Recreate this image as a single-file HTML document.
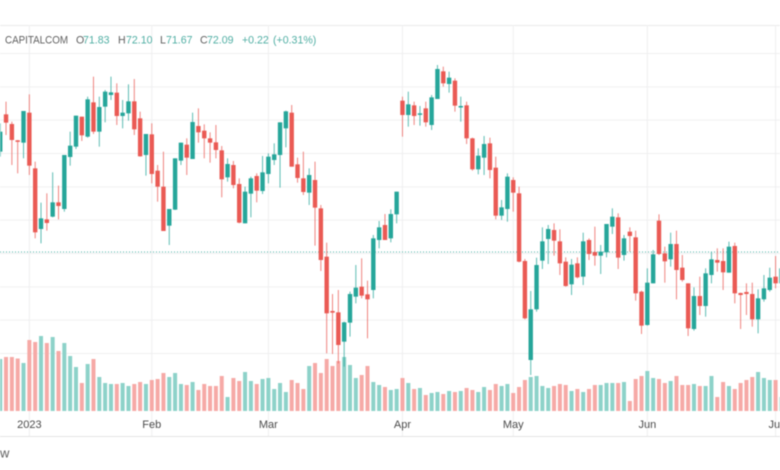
<!DOCTYPE html>
<html lang="en">
<head>
<meta charset="utf-8">
<title>CAPITALCOM candlestick chart</title>
<style>
html,body{margin:0;padding:0;background:#fff;width:780px;height:470px;overflow:hidden}
svg{display:block;filter:blur(0.6px)}
text{font-family:"Liberation Sans",sans-serif}
</style>
</head>
<body>
<svg id="chart" width="780" height="470" viewBox="0 0 780 470" xmlns="http://www.w3.org/2000/svg">
  <rect x="0" y="0" width="780" height="470" fill="#ffffff"/>
  <line x1="0" x2="780" y1="25.5" y2="25.5" stroke="#ebebeb"/>
  <g id="grid"></g>
  <g id="volumes"></g>
  <line id="price-line" x1="0" x2="780" stroke="#4fb3a8" stroke-width="1" stroke-dasharray="1 2"/>
  <g id="candles"></g>
  <line x1="0" x2="780" y1="436.5" y2="436.5" stroke="#e4e4e4"/>
  <g id="xlabels"></g>
  <g font-size="10.6">
    <text x="5" y="43.5" fill="#5f5f5f" textLength="63" lengthAdjust="spacingAndGlyphs">CAPITALCOM</text>
    <text x="76" y="43.5" fill="#5f5f5f">O</text>
    <text x="83" y="43.5" fill="#4faea3">71.83</text>
    <text x="118" y="43.5" fill="#5f5f5f">H</text>
    <text x="126" y="43.5" fill="#4faea3">72.10</text>
    <text x="160" y="43.5" fill="#5f5f5f">L</text>
    <text x="166" y="43.5" fill="#4faea3">71.67</text>
    <text x="200" y="43.5" fill="#5f5f5f">C</text>
    <text x="207" y="43.5" fill="#4faea3">72.09</text>
    <text x="242" y="43.5" fill="#4faea3">+0.22</text>
    <text x="273" y="43.5" fill="#4faea3">(+0.31%)</text>
  </g>
  <text x="0" y="457.5" font-size="13" fill="#5f5f5f">w</text>
</svg>
<script>
const opens = [78.11,80.35,79.77,78.79,78.65,80.45,77.11,73.47,74.05,74.21,
75.07,74.67,77.79,78.41,80.21,79.01,81.07,79.31,80.81,81.51,
81.65,80.25,80.41,81.13,80.11,77.91,79.15,76.97,76.01,73.67,
74.63,77.57,78.53,77.67,79.65,79.37,78.91,78.67,78.19,76.57,
77.31,76.17,73.81,75.59,76.65,75.75,76.77,77.61,77.91,79.51,
80.45,77.35,76.51,75.65,76.41,74.71,71.81,68.55,68.47,66.71,
67.85,69.41,70.01,69.55,69.81,72.81,73.71,72.91,74.35,81.17,
80.31,80.89,80.35,80.71,79.71,81.27,82.93,82.17,82.37,80.79,
80.89,78.91,77.05,77.75,78.61,77.15,74.27,74.67,76.41,75.61,
71.55,65.61,68.65,71.57,72.87,73.41,72.73,71.51,70.15,71.41,
70.61,72.81,72.09,71.87,72.07,73.61,74.17,71.91,73.31,72.97,
69.71,67.71,70.21,73.97,72.01,71.65,72.57,71.15,70.21,67.47,
69.45,68.85,70.71,71.61,71.55,70.85,72.45,69.63,69.69,69.57,
68.05,69.25,69.81,70.61,70.21];
const highs = [79.81,81.11,79.91,78.81,80.55,81.55,77.51,75.05,75.61,76.87,
76.07,77.91,79.31,80.27,80.21,81.41,82.61,81.41,81.81,82.61,
82.21,81.21,82.15,82.47,80.51,79.17,79.81,77.31,78.11,74.67,
77.71,78.65,78.91,80.45,80.71,79.75,79.27,79.71,78.45,77.71,
77.55,76.51,76.01,76.61,76.81,77.85,78.01,78.61,79.87,80.57,
80.91,77.75,78.11,77.11,77.51,74.91,72.65,69.57,69.81,67.91,
69.71,71.31,71.71,70.37,73.11,73.95,74.37,74.65,75.71,81.41,
81.71,81.11,80.85,81.11,81.51,83.31,83.21,82.91,82.51,81.41,
81.11,78.95,78.31,79.05,78.95,77.81,75.21,76.81,76.57,76.01,
71.67,69.75,71.75,73.57,73.71,73.81,73.45,71.77,71.67,71.77,
73.25,72.91,73.61,72.51,73.77,74.71,74.41,73.11,73.57,73.37,
69.77,71.11,72.21,74.35,72.41,73.25,73.37,71.91,70.21,69.97,
70.61,71.11,72.11,72.31,72.31,72.71,72.65,69.65,70.21,70.25,
69.85,70.71,71.15,71.85,71.51];
const lows = [77.81,79.11,77.31,76.81,77.71,76.71,72.91,72.61,73.37,74.17,
74.05,74.51,77.27,78.27,78.75,78.95,79.17,78.41,79.87,81.21,
79.71,79.51,79.97,79.11,77.81,76.67,76.21,75.11,73.35,72.51,
74.61,77.31,76.71,77.67,78.65,77.71,77.45,77.71,75.37,76.31,
75.91,73.81,73.81,74.17,75.07,75.57,76.21,77.31,75.95,78.37,
77.21,76.25,75.51,74.91,72.47,70.95,66.01,65.97,65.41,65.21,
67.01,69.01,69.31,66.91,69.31,72.31,72.81,72.67,73.81,79.01,
79.61,79.71,79.67,79.61,79.41,81.27,82.01,81.65,80.51,79.91,
78.57,76.97,76.75,76.71,76.51,74.05,74.01,73.91,74.51,71.47,
68.05,64.71,68.51,71.07,71.37,71.87,70.71,70.01,69.51,70.51,
70.11,71.61,71.27,70.77,71.77,73.17,71.07,71.57,72.11,69.17,
67.17,67.67,70.21,71.91,70.25,71.21,69.25,70.31,67.05,67.37,
68.31,68.21,70.21,70.91,69.81,70.85,69.01,67.47,68.31,67.61,
67.21,69.11,69.71,69.91,70.01];
const closes = [79.31,79.85,78.81,78.75,80.55,77.27,73.27,74.11,73.83,75.07,
74.85,77.91,78.47,80.27,79.09,81.25,79.31,80.79,81.71,81.67,
80.25,80.45,81.13,79.45,77.83,79.17,76.77,76.01,73.35,74.67,
77.71,78.65,77.75,79.89,79.27,78.91,78.65,78.21,76.45,77.37,
76.11,73.85,75.71,76.51,75.77,76.87,77.81,77.95,79.87,80.53,
77.21,76.53,75.69,76.71,74.75,71.61,68.41,68.45,66.51,67.87,
69.57,69.95,69.47,69.25,72.91,73.57,72.81,74.37,75.71,80.31,
80.95,80.25,80.41,79.87,81.37,83.07,82.21,82.55,80.87,80.85,
78.91,77.05,77.87,78.57,77.01,74.27,74.77,76.61,75.65,71.51,
68.11,68.65,71.31,72.73,73.47,72.77,71.41,70.05,71.33,70.57,
72.73,71.97,71.87,72.11,73.77,74.21,71.75,72.91,73.05,69.61,
67.67,70.25,71.95,71.97,71.53,72.57,71.01,70.41,67.51,69.45,
68.85,70.81,71.65,71.45,70.87,72.41,69.61,69.51,69.57,68.05,
69.31,69.91,70.55,70.21,71.11];
const volumes = [52,54,54,52.5,48,71,69,75,68,74,
60,68,55,44,28,47,52,34,28,27,
27,28,25,27,29,27,31,32,38,34,
38,27,26,29,21,27,25,25,35,14,
33,30,39,30,27,32,33,22,28,19,
31,28,22,45,48,38,52,45,50,54,
46,33,36,45,29,26,24,21,22,33,
28,22,23,16,18,19,17,20,19,20,
23,21,19,24,21,27,25,27,18,24,
31,34,35,25,23,25,27,26,20,22,
19,22,26,26,28,28,28,29,10,32,
35,40,33,32,28,30,35,26,26,27,
25,25,35,14,29,25,22,28,31,34,
39,33,31,31,14];
const priceTicks = [84,82,80,78,76,74,72,70,68,66];
const timeTickIndexes = [5,26,46,69,88,111,133];
const timeTickLabels = ["2023","Feb","Mar","Apr","May","Jun","Jul"];
const lastPrice = 72.09;

const NS = "http://www.w3.org/2000/svg";
const colUp = "#26a69a", colDown = "#ea5a54", volUp = "#8dd2c9", volDown = "#f6a9a6";
function xScale(i){ return 0.2 + 5.83 * i; }
function yScale(p){ return 253.5 - (p - 72) * (100 / 6); }
function volY(v){ return 411 - v; }
function mk(tag, attrs, parent){
  const el = document.createElementNS(NS, tag);
  for (const k in attrs) el.setAttribute(k, attrs[k]);
  parent.appendChild(el);
  return el;
}

const grid = document.getElementById("grid");
priceTicks.forEach(function(p){
  const line = mk("line", {x1:0, x2:780, y1:yScale(p), y2:yScale(p), stroke:"#efeff0"}, grid);
  
  
});
const labels = document.getElementById("xlabels");
timeTickIndexes.forEach(function(idx, n){
  const line = mk("line", {x1:xScale(idx), x2:xScale(idx), y1:25, y2:436, stroke:"#efeff0"}, grid);
  
  
  const t = mk("text", {x:xScale(idx), y:428, "text-anchor":"middle", "font-size":"11", fill:"#4a4a4a"}, labels);
  t.textContent = timeTickLabels[n];
  
  
});

const pl = document.getElementById("price-line");
pl.setAttribute("y1", yScale(lastPrice));
pl.setAttribute("y2", yScale(lastPrice));

const volG = document.getElementById("volumes");
volumes.forEach(function(v, i){
  const up = closes[i] >= opens[i];
  const bar = mk("rect", {x:xScale(i) - 2, y:volY(v), width:4, height:411 - volY(v), fill: up ? volUp : volDown}, volG);
  
  
});

const candleG = document.getElementById("candles");
opens.forEach(function(o, i){
  const c = closes[i];
  const up = c >= o;
  const col = up ? colUp : colDown;
  const g = mk("g", {}, candleG);
  
  
  const wick = mk("line", {x1:xScale(i), x2:xScale(i), y1:yScale(highs[i]), y2:yScale(lows[i]), stroke:col, "stroke-width":1, "stroke-opacity":0.75}, g);
  
  
  const top = yScale(Math.max(o, c));
  const bot = yScale(Math.min(o, c));
  const body = mk("rect", {x:xScale(i) - 2.2, y:top, width:4.4, height:Math.max(1.5, bot - top), fill:col}, g);
  
  
});
</script>
</body>
</html>
